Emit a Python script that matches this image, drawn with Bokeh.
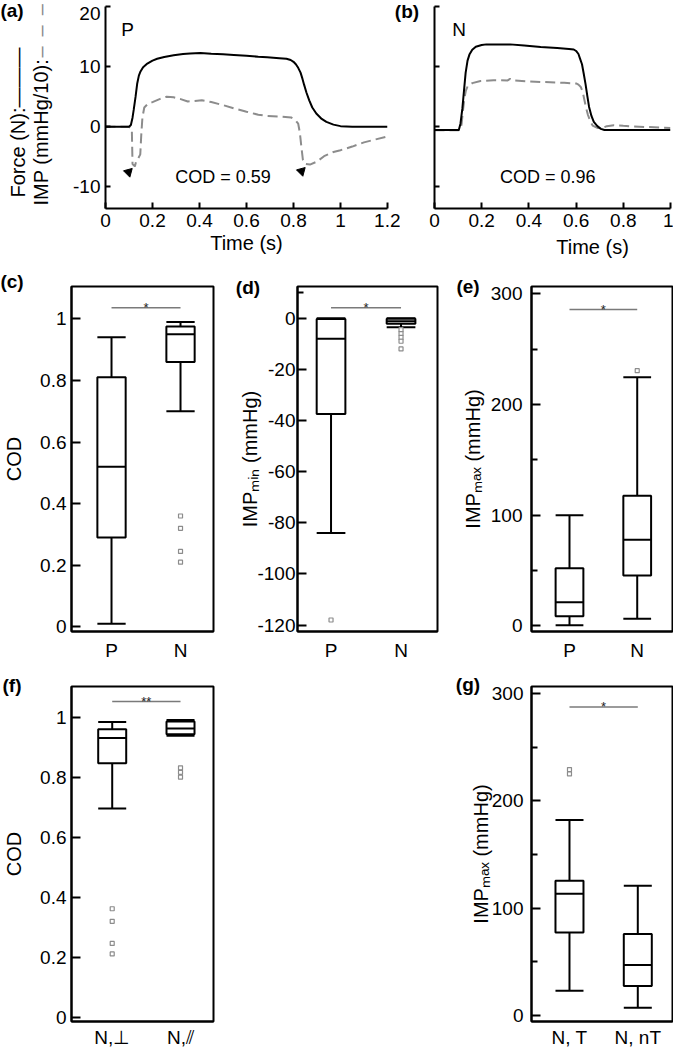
import math
from bokeh.plotting import figure
from bokeh.models import Label, FixedTicker, NumeralTickFormatter, CustomJSTickFormatter, Range1d, Spacer
from bokeh.layouts import row, column
from bokeh.embed import file_html
from bokeh.resources import INLINE

FONT = "Liberation Sans"
GRAY = "#8c8c8c"

# ---------------- data: panel (a) P ----------------
a_force_t = [0, 0.05, 0.1, 0.108, 0.115, 0.12, 0.128, 0.135, 0.142, 0.149, 0.16, 0.178, 0.2, 0.22, 0.25,
             0.29, 0.33, 0.36, 0.404, 0.45, 0.5, 0.546, 0.6, 0.65, 0.688, 0.74, 0.77, 0.788, 0.8, 0.81,
             0.82, 0.83, 0.838, 0.845, 0.855, 0.867, 0.88, 0.897, 0.92, 0.94, 0.97, 1.0, 1.05, 1.2]
a_force_y = [0, 0, 0, 0.3, 1.5, 2.8, 5.0, 7.2, 8.5, 9.2, 9.9, 10.5, 11.0, 11.3, 11.6,
             11.9, 12.1, 12.2, 12.25, 12.15, 12.05, 11.95, 11.8, 11.65, 11.55, 11.4, 11.3, 11.1, 10.8, 10.4,
             9.8, 9.0, 8.0, 7.0, 5.7, 4.4, 3.2, 2.2, 1.3, 0.8, 0.35, 0.1, 0.0, 0.0]
a_imp_t = [0, 0.1, 0.112, 0.115, 0.125, 0.13, 0.14, 0.148, 0.152, 0.157, 0.165, 0.18, 0.2, 0.23, 0.26,
           0.29, 0.32, 0.35, 0.38, 0.41, 0.45, 0.5, 0.546, 0.6, 0.65, 0.688, 0.74, 0.79, 0.81, 0.82,
           0.827, 0.834, 0.84, 0.85, 0.87, 0.9, 0.93, 0.97, 1.0, 1.05, 1.1, 1.15, 1.2]
a_imp_y = [0, 0, -0.3, -6.2, -6.6, -5.8, -5.2, -4.6, -1.5, 1.5, 3.2, 3.8, 4.1, 4.6, 5.0,
           4.9, 4.6, 4.2, 4.3, 4.4, 4.1, 3.6, 3.05, 2.5, 2.0, 1.8, 1.7, 1.55, 1.0, 0.5,
           -1.0, -3.5, -5.5, -6.2, -6.3, -5.8, -4.9, -4.2, -3.9, -3.3, -2.6, -2.1, -1.6]
a_arrow_t = [0.098, 0.834]
a_arrow_y = [-7.55, -7.4]
a_cod = "COD = 0.59"

# ---------------- data: panel (b) N ----------------
b_force_t = [0, 0.1, 0.103, 0.11, 0.118, 0.125, 0.132, 0.14, 0.148, 0.16, 0.175, 0.2, 0.22, 0.32, 0.38,
             0.45, 0.52, 0.57, 0.59, 0.6, 0.61, 0.617, 0.625, 0.632, 0.64, 0.648, 0.655, 0.665, 0.675,
             0.69, 0.705, 0.72, 1.0]
b_force_y = [-0.55, -0.55, -0.55, 0.5, 3.0, 6.0, 9.0, 11.0, 12.0, 12.8, 13.3, 13.6, 13.7, 13.7, 13.5,
             13.25, 13.1, 12.95, 12.85, 12.6, 12.1, 11.3, 10.4, 8.9, 7.1, 5.0, 3.3, 1.8, 0.8,
             0.1, -0.35, -0.55, -0.55]
b_imp_t = [0, 0.1, 0.11, 0.115, 0.12, 0.127, 0.133, 0.14, 0.15, 0.16, 0.195, 0.25, 0.31, 0.32, 0.33,
           0.4, 0.45, 0.55, 0.6, 0.61, 0.62, 0.628, 0.635, 0.642, 0.65, 0.66, 0.67, 0.69, 0.71, 0.73,
           0.76, 0.8, 0.9, 1.0]
b_imp_y = [-0.6, -0.6, -0.5, 0.5, 2.5, 4.8, 6.0, 6.7, 7.0, 7.25, 7.6, 7.75, 7.7, 7.95, 7.7,
           7.55, 7.45, 7.3, 7.2, 7.0, 6.6, 5.8, 4.5, 3.2, 2.0, 0.9, 0.2, -0.2, -0.25, 0.1,
           0.25, 0.15, -0.05, -0.2]
b_cod = "COD = 0.96"

# ---------------- data: panel (c) COD ----------------
c_groups = ["P", "N"]
c_whislo = [0.01, 0.70]
c_q1 = [0.29, 0.86]
c_med = [0.52, 0.95]
c_q3 = [0.81, 0.975]
c_whishi = [0.94, 0.99]
c_out_group = ["N", "N", "N", "N"]
c_out_val = [0.36, 0.32, 0.245, 0.21]
c_sig = "*"

# ---------------- data: panel (d) IMPmin ----------------
d_groups = ["P", "N"]
d_whislo = [-84, -3.5]
d_q1 = [-37.5, -2.2]
d_med = [-8, -1.2]
d_q3 = [-0.3, -0.2]
d_whishi = [0, 0]
d_out_group = ["P", "N", "N", "N", "N", "N"]
d_out_val = [-118, -4.5, -6, -7.5, -9, -12]
d_sig = "*"

# ---------------- data: panel (e) IMPmax ----------------
e_groups = ["P", "N"]
e_whislo = [0.5, 6.3]
e_q1 = [8.7, 45.4]
e_med = [21.3, 77.7]
e_q3 = [52, 117.5]
e_whishi = [100, 224.6]
e_out_group = ["N"]
e_out_val = [230.5]
e_sig = "*"

# ---------------- data: panel (f) COD by orientation ----------------
f_groups = ["N,\u22a5", "N,\u2afd"]
f_whislo = [0.697, 0.94]
f_q1 = [0.848, 0.945]
f_med = [0.933, 0.965]
f_q3 = [0.962, 0.988]
f_whishi = [0.986, 0.993]
f_out_group = [f_groups[0]] * 4 + [f_groups[1]] * 3
f_out_val = [0.362, 0.32, 0.246, 0.211, 0.833, 0.818, 0.802]
f_sig = "**"

# ---------------- data: panel (g) IMPmax by T ----------------
g_groups = ["N, T", "N, nT"]
g_whislo = [23.2, 7.5]
g_q1 = [77.4, 27.7]
g_med = [113.5, 47.2]
g_q3 = [125.6, 75.9]
g_whishi = [182.2, 121]
g_out_group = ["N, T", "N, T"]
g_out_val = [229, 225]
g_sig = "*"

# texts that lie outside the plot frames (page pixel positions)
panel_letters = ["(a)", "(b)", "(c)", "(d)", "(e)", "(f)", "(g)"]
letter_x = [11.5, 406.5, 11.5, 247.5, 467.5, 11.5, 467.5]
letter_y = [10, 11, 281, 286.5, 286, 685, 684]


def style_axis(ax, tick_in, label_size="19px"):
    ax.axis_line_color = "black"
    ax.axis_line_width = 2
    ax.major_tick_line_color = "black"
    ax.major_tick_line_width = 2
    ax.major_tick_in = tick_in
    ax.major_tick_out = 0
    ax.minor_tick_line_color = None
    ax.major_label_text_font = FONT
    ax.major_label_text_font_size = label_size
    ax.major_label_text_color = "black"
    ax.axis_label_text_font = FONT
    ax.axis_label_text_font_size = "20px"
    ax.axis_label_text_font_style = "normal"
    ax.axis_label_text_color = "black"


def make_fig(width, height, left, right, top, bottom, xr, yr):
    p = figure(width=width, height=height, x_range=Range1d(*xr), y_range=Range1d(*yr),
               output_backend="svg", toolbar_location=None, tools="",
               min_border_left=left, min_border_right=right,
               min_border_top=top, min_border_bottom=bottom)
    p.grid.visible = False
    p.background_fill_color = "white"
    p.border_fill_color = "white"
    return p


def add_label(p, text, x, y, size="19px", style="normal", color="black",
              align="center", baseline="middle", angle=0.0, units="screen"):
    p.add_layout(Label(x=x, y=y, x_units=units, y_units=units, text=text,
                       text_font=FONT, text_font_size=size, text_font_style=style,
                       text_color=color, text_align=align, text_baseline=baseline,
                       angle=angle))


def box_panel(width, height, left, right, top, bottom, xr, yr, groups, lo, q1, med, q3, hi,
              out_group, out_val, sig, sig_y, yticks, minor, fmt, ylabel, label_standoff,
              tick_standoff, xlab_standoff):
    p = make_fig(width, height, left, right, top, bottom, xr, yr)
    p.outline_line_color = "black"
    p.outline_line_width = 2
    p.outline_line_alpha = 1
    xs = [i + 1 for i in range(len(groups))]
    w = 0.41
    lft = [x - w / 2 for x in xs]
    rgt = [x + w / 2 for x in xs]
    p.segment(x0=xs, y0=lo, x1=xs, y1=q1, line_color="black", line_width=2)
    p.segment(x0=xs, y0=q3, x1=xs, y1=hi, line_color="black", line_width=2)
    p.segment(x0=lft, y0=lo, x1=rgt, y1=lo, line_color="black", line_width=2)
    p.segment(x0=lft, y0=hi, x1=rgt, y1=hi, line_color="black", line_width=2)
    p.quad(left=lft, right=rgt, bottom=q1, top=q3, fill_color="white",
           line_color="black", line_width=2)
    p.segment(x0=lft, y0=med, x1=rgt, y1=med, line_color="black", line_width=2)
    ox = [groups.index(g) + 1 for g in out_group]
    p.scatter(x=ox, y=out_val, marker="square", size=4, line_color=GRAY,
              fill_color="white", line_width=1.2)
    # significance bar
    p.segment(x0=[1], y0=[sig_y], x1=[2], y1=[sig_y], line_color="#7a7a7a", line_width=1.5)
    p.text(x=[1.5], y=[sig_y], text=[sig], text_font_size="13px", text_align="center",
           text_baseline="alphabetic", text_color="#222222")
    # axes
    style_axis(p.yaxis[0], 9)
    p.yaxis[0].ticker = FixedTicker(ticks=yticks, minor_ticks=minor)
    p.yaxis[0].formatter = fmt
    p.yaxis[0].minor_tick_line_color = "black" if minor else None
    p.yaxis[0].minor_tick_line_width = 2
    p.yaxis[0].minor_tick_in = 6
    p.yaxis[0].minor_tick_out = 0
    p.yaxis[0].major_label_standoff = tick_standoff
    p.yaxis[0].axis_label = ylabel
    p.yaxis[0].axis_label_standoff = label_standoff
    style_axis(p.xaxis[0], 0)
    p.xaxis[0].ticker = FixedTicker(ticks=xs)
    p.xaxis[0].major_label_overrides = {x: g for x, g in zip(xs, groups)}
    p.xaxis[0].major_tick_line_color = None
    p.xaxis[0].major_label_standoff = xlab_standoff
    return p


# ---------------- panel (a) ----------------
pa = make_fig(400, 265, 105, 13, 6, 57, (0, 1.2), (-13.6, 20))
pa.outline_line_color = None
pa.line(a_imp_t, a_imp_y, line_color=GRAY, line_width=2, line_dash="10 5")
pa.line(a_force_t, a_force_y, line_color="black", line_width=2)
pa.scatter(x=a_arrow_t, y=a_arrow_y, marker="triangle", angle=-math.pi / 4, size=9,
           fill_color="black", line_color="black")
style_axis(pa.xaxis[0], 6)
style_axis(pa.yaxis[0], 5)
pa.xaxis[0].ticker = FixedTicker(ticks=[0, 0.2, 0.4, 0.6, 0.8, 1.0, 1.2])
pa.xaxis[0].formatter = NumeralTickFormatter(format="0.[0]")
pa.xaxis[0].major_label_standoff = 5
pa.xaxis[0].axis_label = "Time (s)"
pa.xaxis[0].axis_label_standoff = 2
pa.yaxis[0].ticker = FixedTicker(ticks=[-10, 0, 10, 20])
pa.yaxis[0].formatter = NumeralTickFormatter(format="0")
pa.yaxis[0].major_label_overrides = {20: ""}
pa.yaxis[0].major_label_standoff = 5
add_label(pa, a_cod, 0.5, -8.33, size="18px", units="data")
add_label(pa, "P", 22, 179.5)

# ---------------- panel (b) ----------------
pb = make_fig(273, 265, 34, 3, 6, 57, (0, 1.0), (-13.6, 20))
pb.outline_line_color = None
pb.line(b_imp_t, b_imp_y, line_color=GRAY, line_width=2, line_dash="10 5")
pb.line(b_force_t, b_force_y, line_color="black", line_width=2)
style_axis(pb.xaxis[0], 6)
style_axis(pb.yaxis[0], 5)
pb.xaxis[0].ticker = FixedTicker(ticks=[0, 0.2, 0.4, 0.6, 0.8, 1.0])
pb.xaxis[0].formatter = NumeralTickFormatter(format="0.[0]")
pb.xaxis[0].major_label_standoff = 5
pb.yaxis[0].ticker = FixedTicker(ticks=[-10, 0, 10, 20])
pb.yaxis[0].formatter = CustomJSTickFormatter(code="return ''")
pb.yaxis[0].major_label_standoff = 0
add_label(pb, b_cod, 0.48, -8.4, size="18px", units="data")
add_label(pb, "N", 24.5, 179.5)

# ---------------- panels (c)-(g) ----------------
fmt01 = NumeralTickFormatter(format="0.[0]")
pc = box_panel(222, 400, 71, 9, 21, 34, (0.42, 2.478), (-0.015, 1.105), c_groups,
               c_whislo, c_q1, c_med, c_q3, c_whishi, c_out_group, c_out_val, c_sig, 1.036,
               [0, 0.2, 0.4, 0.6, 0.8, 1.0], [], fmt01, "COD", 12, 5, 8)

pd = box_panel(221, 400, 75, 6, 21, 34, (0.521, 2.521), (-122.5, 12.4), d_groups,
               d_whislo, d_q1, d_med, d_q3, d_whishi, d_out_group, d_out_val, d_sig, 4.07,
               [-120, -100, -80, -60, -40, -20, 0], [10], NumeralTickFormatter(format="0"),
               "IMP\u2098\u1d62\u2099 (mmHg)", -7, 2, 8)

pe = box_panel(230, 400, 88, 1, 21, 34, (0.439, 2.521), (-5.15, 306.6), e_groups,
               e_whislo, e_q1, e_med, e_q3, e_whishi, e_out_group, e_out_val, e_sig, 285.8,
               [0, 100, 200, 300], [50, 150, 250], NumeralTickFormatter(format="0"),
               "IMP\u2098\u2090\u2093 (mmHg)", 4, 9, 8)

pf = box_panel(222, 385, 71, 9, 21, 26, (0.404, 2.483), (-0.015, 1.105), f_groups,
               f_whislo, f_q1, f_med, f_q3, f_whishi, f_out_group, f_out_val, f_sig, 1.055,
               [0, 0.2, 0.4, 0.6, 0.8, 1.0], [], fmt01, "COD", 12, 5, 5)

pg = box_panel(230, 385, 88, 1, 15, 25, (0.444, 2.508), (-5.4, 306.3), g_groups,
               g_whislo, g_q1, g_med, g_q3, g_whishi, g_out_group, g_out_val, g_sig, 287.3,
               [0, 100, 200, 300], [50, 150, 250], NumeralTickFormatter(format="0"),
               "IMP\u2098\u2090\u2093 (mmHg)", -3, 8, 5)

root = column(
    row(pa, pb),
    row(pc, pd, pe),
    row(pf, Spacer(width=221, height=385), pg),
    styles={"position": "absolute", "left": "0px", "top": "0px"},
)

# ---------------- transparent overlay for texts outside the frames ----------------
ov = figure(width=673, height=1050, x_range=Range1d(0, 673), y_range=Range1d(1050, 0),
            x_axis_location=None, y_axis_location=None, output_backend="svg",
            toolbar_location=None, tools="", min_border=0,
            styles={"position": "absolute", "left": "0px", "top": "0px"})
ov.grid.visible = False
ov.outline_line_color = None
ov.background_fill_alpha = 0
ov.border_fill_alpha = 0
for t, x, y in zip(panel_letters, letter_x, letter_y):
    add_label(ov, t, x, y, style="bold", units="data")
add_label(ov, "20", 100, 12.5, align="right", units="data")
add_label(ov, "Force (N):\u2014\u2014\u2014", 17, 197, size="20px", align="left",
          angle=math.pi / 2, units="data")
add_label(ov, "IMP (mmHg/10):", 40, 205, size="20px", align="left",
          angle=math.pi / 2, units="data")
add_label(ov, "\u2013\u2002\u2013\u2002\u2013", 40, 57, size="20px", align="left",
          angle=math.pi / 2, color=GRAY, units="data")
add_label(ov, "Time (s)", 592, 246, size="20px", units="data")

with open("out.html", "w") as fh:
    fh.write(file_html([root, ov], INLINE))
